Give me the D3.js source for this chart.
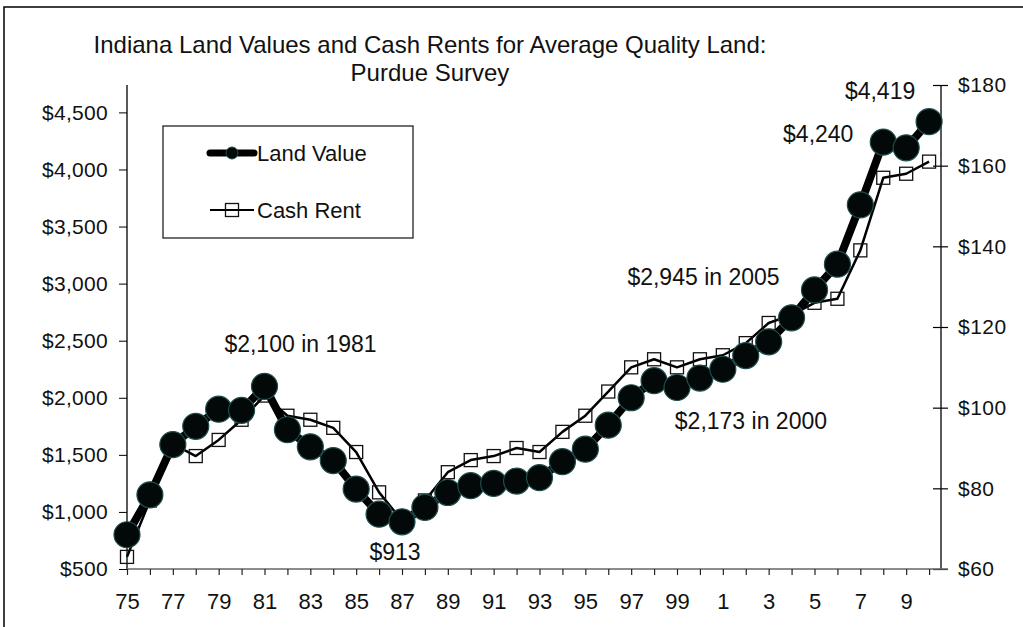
<!DOCTYPE html>
<html lang="en">
<head>
    <meta charset="UTF-8">
    <script src="https://d3js.org/d3.v7.min.js"></script>
    <title>Indiana Land Values and Cash Rents</title>
    <style>
        body { margin: 0; background: #fff; }
        text { font-family: "Liberation Sans", Arial, sans-serif; fill: #111; }
    </style>
</head>
<body>
    <script>
        var w = 1023;
        var h = 627;

        // survey years 1975 - 2010
        var years = d3.range(1975, 2011);
        var landValue = [800, 1150, 1590, 1750, 1900, 1890, 2100, 1720, 1570, 1450, 1200, 980,
                         913, 1040, 1170, 1230, 1250, 1270, 1300, 1440, 1550, 1760, 2000, 2150,
                         2090, 2173, 2250, 2370, 2490, 2700, 2945, 3170, 3690, 4240, 4190, 4419];
        var cashRent = [63, 77, 91, 88, 92, 97, 103, 98, 97, 95, 89, 79,
                        72, 77, 84, 87, 88, 90, 89, 94, 98, 104, 110, 112,
                        110, 112, 113, 116, 121, 123, 126, 127, 139, 157, 158, 161];
        var leftTicks = [500, 1000, 1500, 2000, 2500, 3000, 3500, 4000, 4500];
        var rightTicks = [60, 80, 100, 120, 140, 160, 180];
        var xLabelYears = [1975, 1977, 1979, 1981, 1983, 1985, 1987, 1989, 1991, 1993, 1995,
                           1997, 1999, 2001, 2003, 2005, 2007, 2009];
        var xTickLabels = ["75", "77", "79", "81", "83", "85", "87", "89", "91", "93", "95",
                           "97", "99", "1", "3", "5", "7", "9"];
        var notes = [
            {text: "$2,100 in 1981", year: 1981, value: 2100},
            {text: "$913", year: 1987, value: 913},
            {text: "$2,173 in 2000", year: 2000, value: 2173},
            {text: "$2,945 in 2005", year: 2005, value: 2945},
            {text: "$4,240", year: 2008, value: 4240},
            {text: "$4,419", year: 2010, value: 4419}
        ];
        // label offsets from the point they describe
        var noteOffsets = [[36, -34], [-7, 38], [51, 51], [-111, -5], [-65, 0], [-49, -23]];

        var x = d3.scaleLinear().domain([1975, 2010.52]).range([127, 941]);
        var yL = d3.scaleLinear().domain([500, 4740]).range([569, 85]);
        var yR = d3.scaleLinear().domain([60, 180]).range([569, 85]);

        var svg = d3.select("body")
                    .append("svg")
                    .attr("width", w)
                    .attr("height", h);

        // frame
        svg.append("rect")
            .attr("x", 4).attr("y", 7)
            .attr("width", 1040).attr("height", 660)
            .attr("fill", "none")
            .attr("stroke", "#000")
            .attr("stroke-width", 1.5);

        // title
        var title = svg.append("text")
            .attr("text-anchor", "middle")
            .style("font-size", "24px");
        title.append("tspan").attr("x", 430).attr("y", 53)
            .text("Indiana Land Values and Cash Rents for Average Quality Land:");
        title.append("tspan").attr("x", 430).attr("y", 81)
            .text("Purdue Survey");

        // left axis
        var leftAxis = d3.axisLeft(yL)
            .tickValues(leftTicks)
            .tickSize(8)
            .tickPadding(11)
            .tickFormat(function(d) { return "$" + d3.format(",")(d); });
        var gl = svg.append("g").attr("transform", "translate(127,0)").call(leftAxis);
        gl.select(".domain").attr("d", "M0,85V569").attr("stroke", "#000").attr("stroke-width", 1.3);
        gl.selectAll("text").style("font-size", "21px").style("letter-spacing", "0.3px");

        // right axis, ticks cross the line
        var rightAxis = d3.axisRight(yR)
            .tickValues(rightTicks)
            .tickSize(7)
            .tickPadding(10)
            .tickFormat(function(d) { return "$" + d; });
        var gr = svg.append("g").attr("transform", "translate(941,0)").call(rightAxis);
        gr.select(".domain").attr("d", "M0,85V569").attr("stroke", "#000").attr("stroke-width", 1.3);
        gr.selectAll(".tick line").attr("x1", -8).attr("stroke-width", 1.2);
        gr.selectAll("text").style("font-size", "21px").style("letter-spacing", "0.5px").attr("x", 17);

        // bottom axis
        var bottomAxis = d3.axisBottom(x)
            .tickValues(years)
            .tickSize(6)
            .tickPadding(18)
            .tickFormat(function(d) {
                var i = xLabelYears.indexOf(d);
                return i < 0 ? "" : xTickLabels[i];
            });
        var gb = svg.append("g").attr("transform", "translate(0,569)").call(bottomAxis);
        gb.select(".domain").attr("d", "M127,0H948").attr("stroke", "#666").attr("stroke-width", 1.5);
        gb.selectAll(".tick line").attr("stroke", "#222").attr("stroke-width", 1.2);
        gb.selectAll("text").style("font-size", "22px");

        // cash rent (right axis)
        var rentLine = d3.line()
            .x(function(d, i) { return x(years[i]); })
            .y(function(d) { return yR(d); });
        svg.append("path")
            .datum(cashRent)
            .attr("d", rentLine)
            .attr("fill", "none")
            .attr("stroke", "#000")
            .attr("stroke-width", 2.5)
            .attr("stroke-linejoin", "round");
        svg.selectAll("rect.rent")
            .data(cashRent)
            .enter()
            .append("rect")
            .attr("class", "rent")
            .attr("x", function(d, i) { return x(years[i]) - 6.5; })
            .attr("y", function(d) { return yR(d) - 6.5; })
            .attr("width", 13)
            .attr("height", 13)
            .attr("fill", "none")
            .attr("stroke", "#111")
            .attr("stroke-width", 1.3);

        // land value (left axis)
        var landLine = d3.line()
            .x(function(d, i) { return x(years[i]); })
            .y(function(d) { return yL(d); });
        svg.append("path")
            .datum(landValue)
            .attr("d", landLine)
            .attr("fill", "none")
            .attr("stroke", "#000")
            .attr("stroke-width", 8)
            .attr("stroke-linejoin", "round");
        svg.selectAll("circle.land")
            .data(landValue)
            .enter()
            .append("circle")
            .attr("class", "land")
            .attr("cx", function(d, i) { return x(years[i]); })
            .attr("cy", function(d) { return yL(d); })
            .attr("r", 13)
            .attr("fill", "#030808")
            .attr("stroke", "#1f4d4d")
            .attr("stroke-width", 1.2);

        // annotations
        svg.selectAll("text.note")
            .data(notes)
            .enter()
            .append("text")
            .attr("class", "note")
            .attr("text-anchor", "middle")
            .attr("x", function(d, i) { return x(d.year) + noteOffsets[i][0]; })
            .attr("y", function(d, i) { return yL(d.value) + noteOffsets[i][1]; })
            .style("font-size", "23px")
            .text(function(d) { return d.text; });

        // legend
        var legend = svg.append("g");
        legend.append("rect")
            .attr("x", 163).attr("y", 126)
            .attr("width", 250).attr("height", 112)
            .attr("fill", "#fff")
            .attr("stroke", "#222")
            .attr("stroke-width", 1.3);
        legend.append("line")
            .attr("x1", 210).attr("x2", 254).attr("y1", 153).attr("y2", 153)
            .attr("stroke", "#000").attr("stroke-width", 7).attr("stroke-linecap", "round");
        legend.append("circle")
            .attr("cx", 232).attr("cy", 153).attr("r", 6)
            .attr("fill", "#030808").attr("stroke", "#1f4d4d");
        legend.append("text").attr("x", 257).attr("y", 161)
            .style("font-size", "22px").text("Land Value");
        legend.append("line")
            .attr("x1", 210).attr("x2", 254).attr("y1", 210).attr("y2", 210)
            .attr("stroke", "#000").attr("stroke-width", 2);
        legend.append("rect")
            .attr("x", 225.5).attr("y", 203.5).attr("width", 13).attr("height", 13)
            .attr("fill", "none").attr("stroke", "#111").attr("stroke-width", 1.3);
        legend.append("text").attr("x", 257).attr("y", 218)
            .style("font-size", "22px").text("Cash Rent");
    </script>
</body>
</html>
